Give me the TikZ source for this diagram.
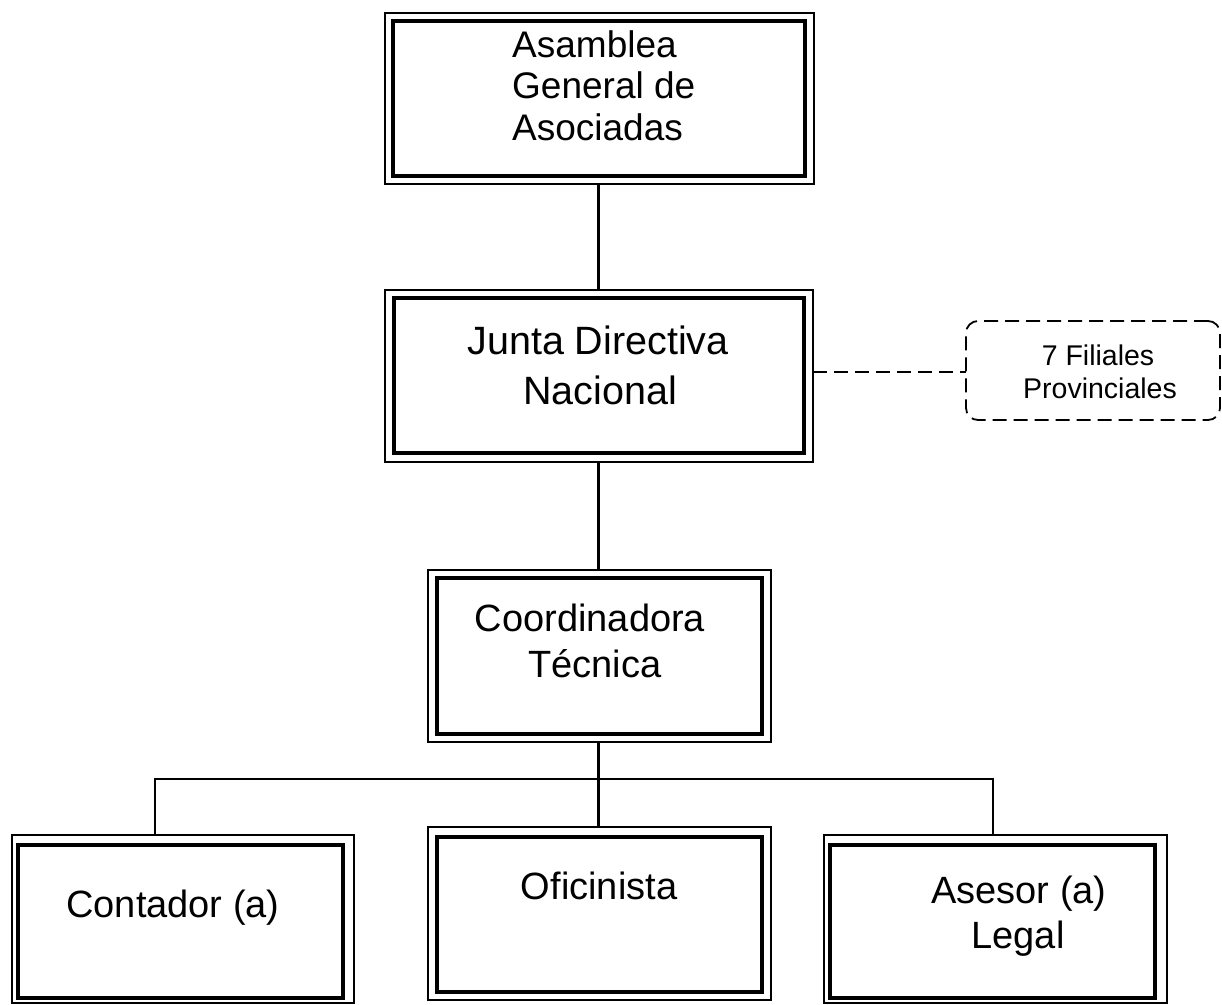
\documentclass[tikz,border=0pt]{standalone}
\usepackage{fontspec}
\setmainfont{Liberation Sans}
\begin{document}
\begin{tikzpicture}[x=1pt,y=-1pt,
  outerbox/.style={draw, line width=2pt, inner sep=0pt, outer sep=0pt, rectangle},
  innerbox/.style={draw, line width=3.5pt, inner sep=0pt, outer sep=0pt, rectangle},
  txt/.style={inner sep=0pt, anchor=base, font=\fontsize{38}{44}\selectfont},
  txtl/.style={inner sep=0pt, anchor=base west, font=\fontsize{37}{44}\selectfont},
  txtbig/.style={inner sep=0pt, anchor=base, font=\fontsize{39.5}{48}\selectfont},
  small/.style={inner sep=0pt, anchor=base, font=\fontsize{28.5}{34}\selectfont},
  thickline/.style={line width=3pt},
  thinline/.style={line width=1.5pt},
  dashline/.style={line width=1.8pt, dash pattern=on 14pt off 7pt}
]
\useasboundingbox (0,0) rectangle (1222,1004);
% boxes: outer (named) and inner frames
\newcommand{\dbox}[9]{%
  \node[outerbox, minimum width=#3-#2, minimum height=#5-#4] (#1) at ({(#2+#3)/2},{(#4+#5)/2}) {};
  \node[innerbox, minimum width=#7-#6, minimum height=#9-#8] (#1i) at ({(#6+#7)/2},{(#8+#9)/2}) {};}
\dbox{asam}{385}{814}{13}{184}{393}{805}{21}{176}
\dbox{junta}{385}{813}{290}{462}{394}{804}{298}{453}
\dbox{coord}{428}{771}{570}{742}{437}{762}{578}{734}
\dbox{cont}{12}{354}{835}{1003}{18}{343}{845}{998}
\dbox{ofic}{428}{771}{827}{1000}{437}{762}{837}{992}
\dbox{ases}{824}{1167}{835}{1003}{830}{1155}{845}{998}
% dashed box
\node[draw, dashline, rounded corners=12pt, minimum width=254pt, minimum height=99pt, inner sep=0pt, outer sep=0pt] (fil) at (1093,370.5) {};
% texts
\node[txtl] (t1a) at (512,57) {Asamblea};
\node[txtl] (t1b) at (512,98.5) {General de};
\node[txtl] (t1c) at (512,140) {Asociadas};
\node[txtbig] (t2a) at (598,354) {Junta Directiva};
\node[txtbig] (t2b) at (600,404) {Nacional};
\node[txt] (t3a) at (590,631) {Coordinadora};
\node[txt] (t3b) at (595,677) {Técnica};
\node[txt] (t4) at (173,917) {Contador (a)};
\node[txt] (t5) at (599,899) {Oficinista};
\node[txt] (t6a) at (1019,903) {Asesor (a)};
\node[txt] (t6b) at (1018,948) {Legal};
\node[small] (t7a) at (1098,365) {7 Filiales};
\node[small] (t7b) at (1100,398) {Provinciales};
% connectors
\coordinate (hl) at (155,779);
\coordinate (hr) at (993,779);
\coordinate (hm) at (598,779);
\draw[thickline] (asam.south -| hm) -- (junta.north -| hm);
\draw[thickline] (junta.south -| hm) -- (coord.north -| hm);
\draw[thickline] (coord.south -| hm) -- (ofic.north -| hm);
\draw[thinline] (cont.north -| hl) -- (hl) -- (hr) -- (ases.north -| hr);
\draw[dashline] (junta.east |- 0,372) -- (fil.west |- 0,372);
\end{tikzpicture}
\end{document}
